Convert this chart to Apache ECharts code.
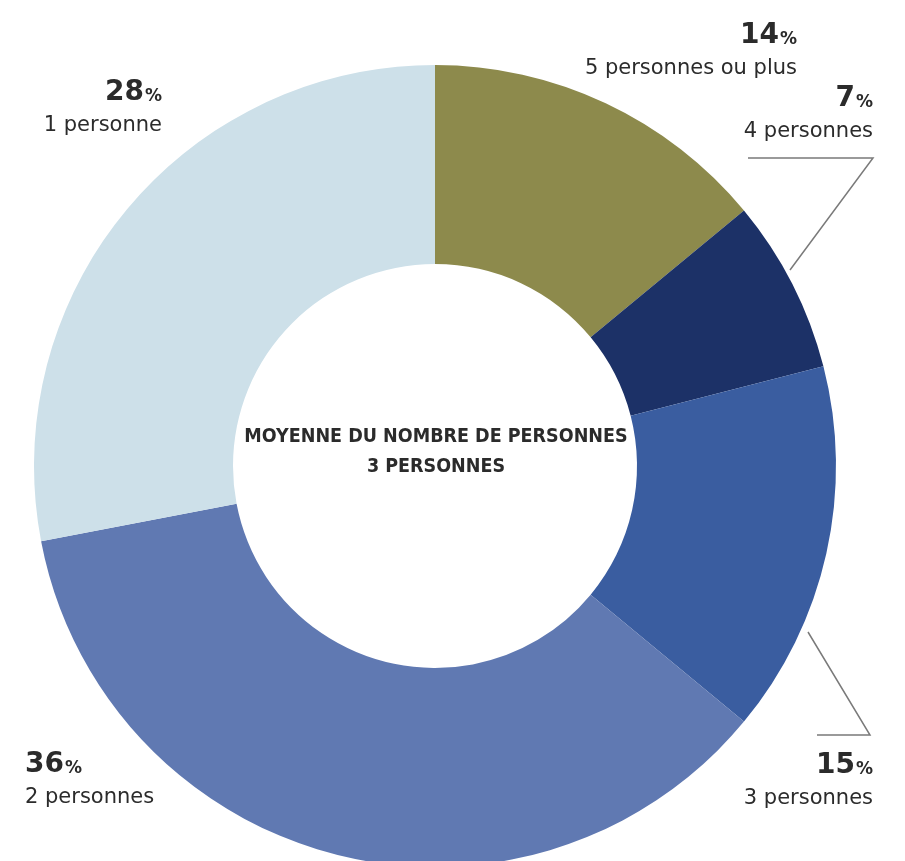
<!DOCTYPE html>
<html>
<head>
<meta charset="utf-8">
<script src="https://cdn.jsdelivr.net/npm/echarts@6/dist/echarts.min.js"></script>
<style>
  html, body { margin: 0; padding: 0; background: #ffffff; }
  #chart { width: 905px; height: 861px; }
</style>
</head>
<body>
<div id="chart"></div>
<script>
// Household size distribution (share of households, %)
const categories = ['5 personnes ou plus', '4 personnes', '3 personnes', '2 personnes', '1 personne'];
const shares = [14, 7, 15, 36, 28];
const sliceColors = ['#8d8a4c', '#1c3167', '#3a5da0', '#6079b2', '#cde0e9'];
const centerLines = ['MOYENNE DU NOMBRE DE PERSONNES', '3 PERSONNES'];

// Label anchor for each category: [x, y, align]
const labelSpots = {
  '5 personnes ou plus': [797, 18, 'right'],
  '4 personnes': [873, 81, 'right'],
  '3 personnes': [873, 748, 'right'],
  '2 personnes': [25, 747, 'left'],
  '1 personne': [162, 75, 'right']
};

const textFont = '"DejaVu Sans", "Noto Sans", sans-serif';
const chart = echarts.init(document.getElementById('chart'), null, { renderer: 'canvas' });

function richFor(align) {
  return {
    num: { fontSize: 28, fontWeight: 'bold', color: '#2b2b2b', fontFamily: textFont, align: align, lineHeight: 36 },
    pct: { fontSize: 17, fontWeight: 'bold', color: '#2b2b2b', fontFamily: textFont, align: align, lineHeight: 36, padding: [7, 0, 0, 1] },
    txt: { fontSize: 21, color: '#2b2b2b', fontFamily: textFont, align: align, lineHeight: 30 }
  };
}

function spotFor(text) {
  const key = categories.find(c => text.indexOf(c) >= 0);
  return labelSpots[key];
}

chart.setOption({
  backgroundColor: '#ffffff',
  animation: false,
  title: {
    text: centerLines.join('\n'),
    left: 431,
    top: 417,
    textAlign: 'center',
    textStyle: {
      fontFamily: '"DejaVu Sans Condensed", "DejaVu Sans", sans-serif',
      fontSize: 19.5,
      fontWeight: 'bold',
      color: '#2b2b2b',
      lineHeight: 30
    }
  },
  series: [{
    type: 'pie',
    center: [435, 466],
    radius: [202, 401],
    startAngle: 90,
    clockwise: true,
    avoidLabelOverlap: false,
    silent: true,
    data: categories.map((name, i) => ({
      name: name,
      value: shares[i],
      itemStyle: { color: sliceColors[i] },
      label: { rich: richFor(labelSpots[name][2]) }
    })),
    label: {
      show: true,
      position: 'outside',
      formatter: p => '{num|' + p.value + '}{pct|%}\n{txt|' + p.name + '}'
    },
    labelLine: { show: false },
    labelLayout: params => {
      const s = spotFor(params.text);
      return { x: s[0], y: s[1], align: s[2], verticalAlign: 'top', hideOverlap: false };
    }
  }],
  graphic: [
    {
      type: 'polyline',
      shape: { points: [[790, 270], [873, 158], [748, 158]] },
      style: { stroke: '#7a7a7a', lineWidth: 1.5, fill: null }
    },
    {
      type: 'polyline',
      shape: { points: [[808, 632], [870, 735], [817, 735]] },
      style: { stroke: '#7a7a7a', lineWidth: 1.5, fill: null }
    }
  ]
});
</script>
</body>
</html>
